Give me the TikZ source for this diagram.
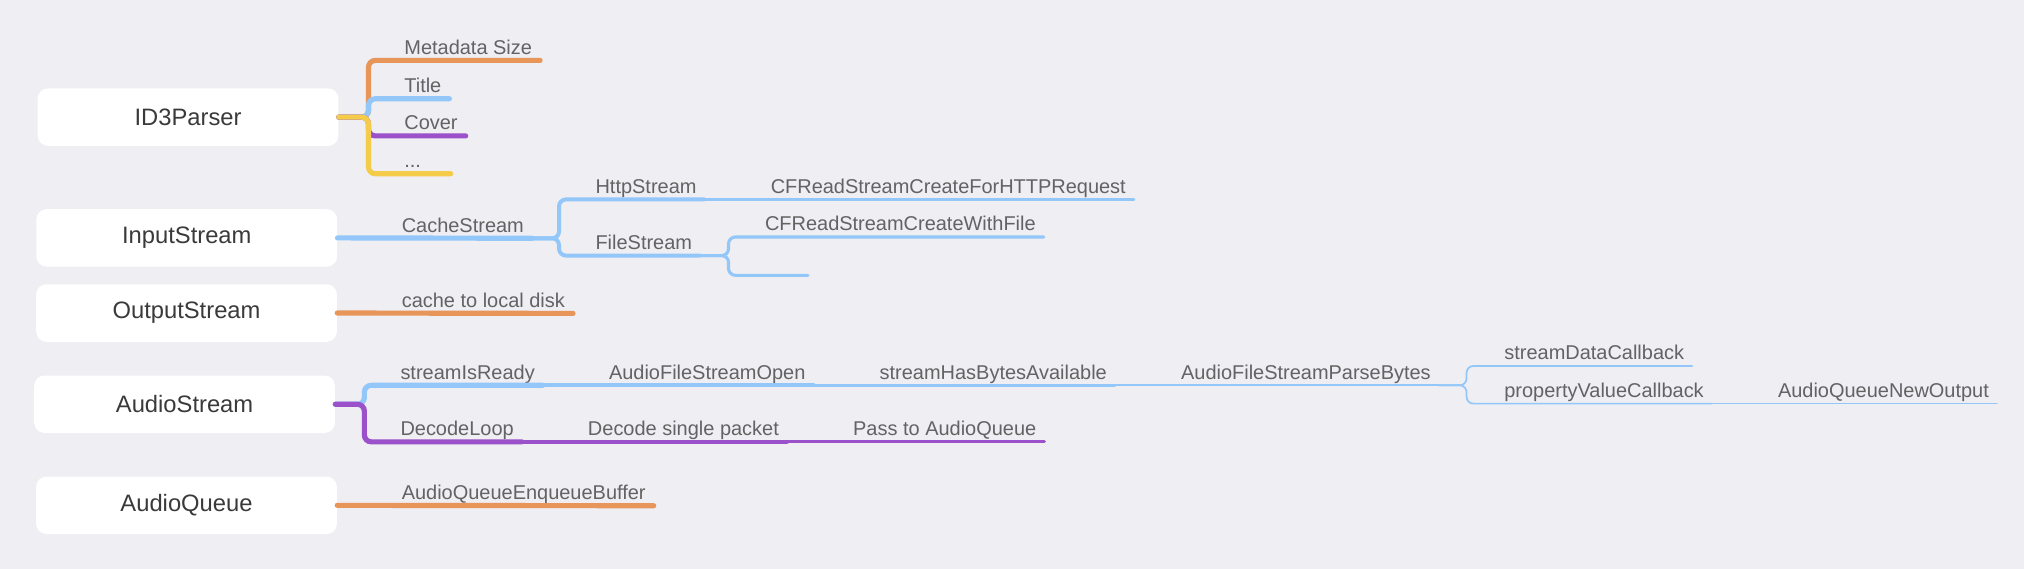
\documentclass[tikz,border=0pt]{standalone}
\usepackage{fontspec}
\setmainfont{Liberation Sans}
\usetikzlibrary{positioning, calc}
\definecolor{bgcol}{HTML}{EEEEF3}
\definecolor{boxtext}{HTML}{3A3A3A}
\definecolor{labeltext}{HTML}{636363}
\definecolor{mmorange}{HTML}{E8955A}
\definecolor{mmblue}{HTML}{93C7FA}
\definecolor{mmpurple}{HTML}{9B51C9}
\definecolor{mmyellow}{HTML}{F5CB4A}
\tikzset{
    topbox/.style={ % main topics
        fill=white,
        rounded corners=6pt,
        minimum width=174.75pt,
        minimum height=33.4pt,
        inner sep=0pt,
        text=boxtext,
        font=\fontsize{13.8}{16}\selectfont
    },
    topic/.style={ % sub topics, the line runs under them
        anchor=base west,
        inner xsep=4.5pt,
        inner ysep=3.4pt,
        text depth=0pt,
        text=labeltext,
        font=\fontsize{11.6}{14}\selectfont
    },
    branch/.style={line cap=round, rounded corners=4pt},
    lvl1/.style={branch, line width=3pt},
    lvl2/.style={branch, line width=2.3pt},
    lvl3/.style={branch, line width=1.8pt},
    lvl4/.style={branch, line width=1.2pt},
    lvl5/.style={branch, line width=1pt},
    lvl6/.style={branch, line width=0.8pt}
}

\begin{document}
\begin{tikzpicture}[x=0.75pt, y=-0.75pt]
        \fill[bgcol] (0,0) rectangle (1568,440.8);
        % hauptthemen
        \node[topbox] (id3)         at (145.7,90.75) {ID3Parser};
        \node[topbox] (input)       at (144.7,184.3) {InputStream};
        \node[topbox] (output)      at (144.5,242.5) {OutputStream};
        \node[topbox] (audiostream) at (143,313.2)   {AudioStream};
        \node[topbox] (audioqueue)  at (144.5,391.5) {AudioQueue};

        % ID3Parser
        \coordinate (id3j) at ($(id3.east)+(23,0)$);
        \node[topic] (meta)  at (307,42)    {Metadata Size};
        \node[topic] (title) at (307,71.7)  {Title};
        \node[topic] (cover) at (307,100.5) {Cover};
        \node[topic, text width=22.2pt] (dots) at (307,129.8) {...};
        \draw[lvl1, mmorange] (id3.east) -- (id3j) |- (meta.south east);
        \draw[lvl1, mmblue]   (id3.east) -- (id3j) |- (title.south east);
        \draw[lvl1, mmpurple] (id3.east) -- (id3j) |- (cover.south east);
        \draw[lvl1, mmyellow] (id3.east) -- (id3j) |- (dots.south east);

        % InputStream
        \node[topic] (cache) at (305,179.8) {CacheStream};
        \coordinate (cachej) at ($(cache.south east)+(21,0)$);
        \path (cachej) ++(22,0) coordinate (cachet);
        \node[topic] (http) at (cachet |- 0,149.7) {HttpStream};
        \node[topic] (file) at (cachet |- 0,193.2) {FileStream};
        \node[right=33.75pt of http.base east, topic] (cfhttp) {CFReadStreamCreateForHTTPRequest};
        \coordinate (filej) at ($(file.south east)+(22,0)$);
        \path (filej) ++(22,0) coordinate (filet);
        \node[topic] (cffile) at (filet |- 0,178.8) {CFReadStreamCreateWithFile};
        \node[topic, text width=20.25pt] (fileempty) at (filet |- 0,208.5) {};
        \draw[lvl1, mmblue] (input.east) -- (cache.south east);
        \draw[lvl2, mmblue] (cache.south east) -- (cachej) |- (http.south east);
        \draw[lvl2, mmblue] (cache.south east) -- (cachej) |- (file.south east);
        \draw[lvl3, mmblue] (http.south east) -- (cfhttp.south east);
        \draw[lvl3, mmblue] (file.south east) -- (filej) |- (cffile.south east);
        \draw[lvl3, mmblue] (file.south east) -- (filej) |- (fileempty.south east);

        % OutputStream
        \node[topic] (localdisk) at (305,238) {cache to local disk};
        \draw[lvl1, mmorange] (output.east) -- (localdisk.south east);

        % AudioStream
        \coordinate (asj) at ($(audiostream.east)+(22.5,0)$);
        \node[topic] (ready)  at (304,293.7) {streamIsReady};
        \node[topic] (decode) at (304,337.5) {DecodeLoop};
        \node[right=33.75pt of ready.base east, topic]    (afsopen)  {AudioFileStreamOpen};
        \node[right=33.75pt of afsopen.base east, topic]  (hasbytes) {streamHasBytesAvailable};
        \node[right=33.75pt of hasbytes.base east, topic] (parse)    {AudioFileStreamParseBytes};
        \coordinate (parsej) at ($(parse.south east)+(21.5,0)$);
        \path (parsej) ++(23,0) coordinate (parset);
        \node[topic] (datacb) at (parset |- 0,278.7) {streamDataCallback};
        \node[topic] (propcb) at (parset |- 0,307.9) {propertyValueCallback};
        \node[right=33.75pt of propcb.base east, topic]   (newout)   {AudioQueueNewOutput};
        \node[right=33.75pt of decode.base east, topic]   (single)   {Decode single packet};
        \node[right=33.75pt of single.base east, topic]   (pass)     {Pass to AudioQueue};
        \draw[lvl1, mmblue]   (audiostream.east) -- (asj) |- (ready.south east);
        \draw[lvl1, mmpurple] (audiostream.east) -- (asj) |- (decode.south east);
        \draw[lvl2, mmblue] (ready.south east) -- (afsopen.south east);
        \draw[lvl3, mmblue] (afsopen.south east) -- (hasbytes.south east);
        \draw[lvl4, mmblue] (hasbytes.south east) -- (parse.south east);
        \draw[lvl5, mmblue] (parse.south east) -- (parsej) |- (datacb.south east);
        \draw[lvl5, mmblue] (parse.south east) -- (parsej) |- (propcb.south east);
        \draw[lvl6, mmblue] (propcb.south east) -- (newout.south east);
        \draw[lvl2, mmpurple] (decode.south east) -- (single.south east);
        \draw[lvl3, mmpurple] (single.south east) -- (pass.south east);

        % AudioQueue
        \node[topic] (enqueue) at (305,387) {AudioQueueEnqueueBuffer};
        \draw[lvl1, mmorange] (audioqueue.east) -- (enqueue.south east);
\end{tikzpicture}
\end{document}
